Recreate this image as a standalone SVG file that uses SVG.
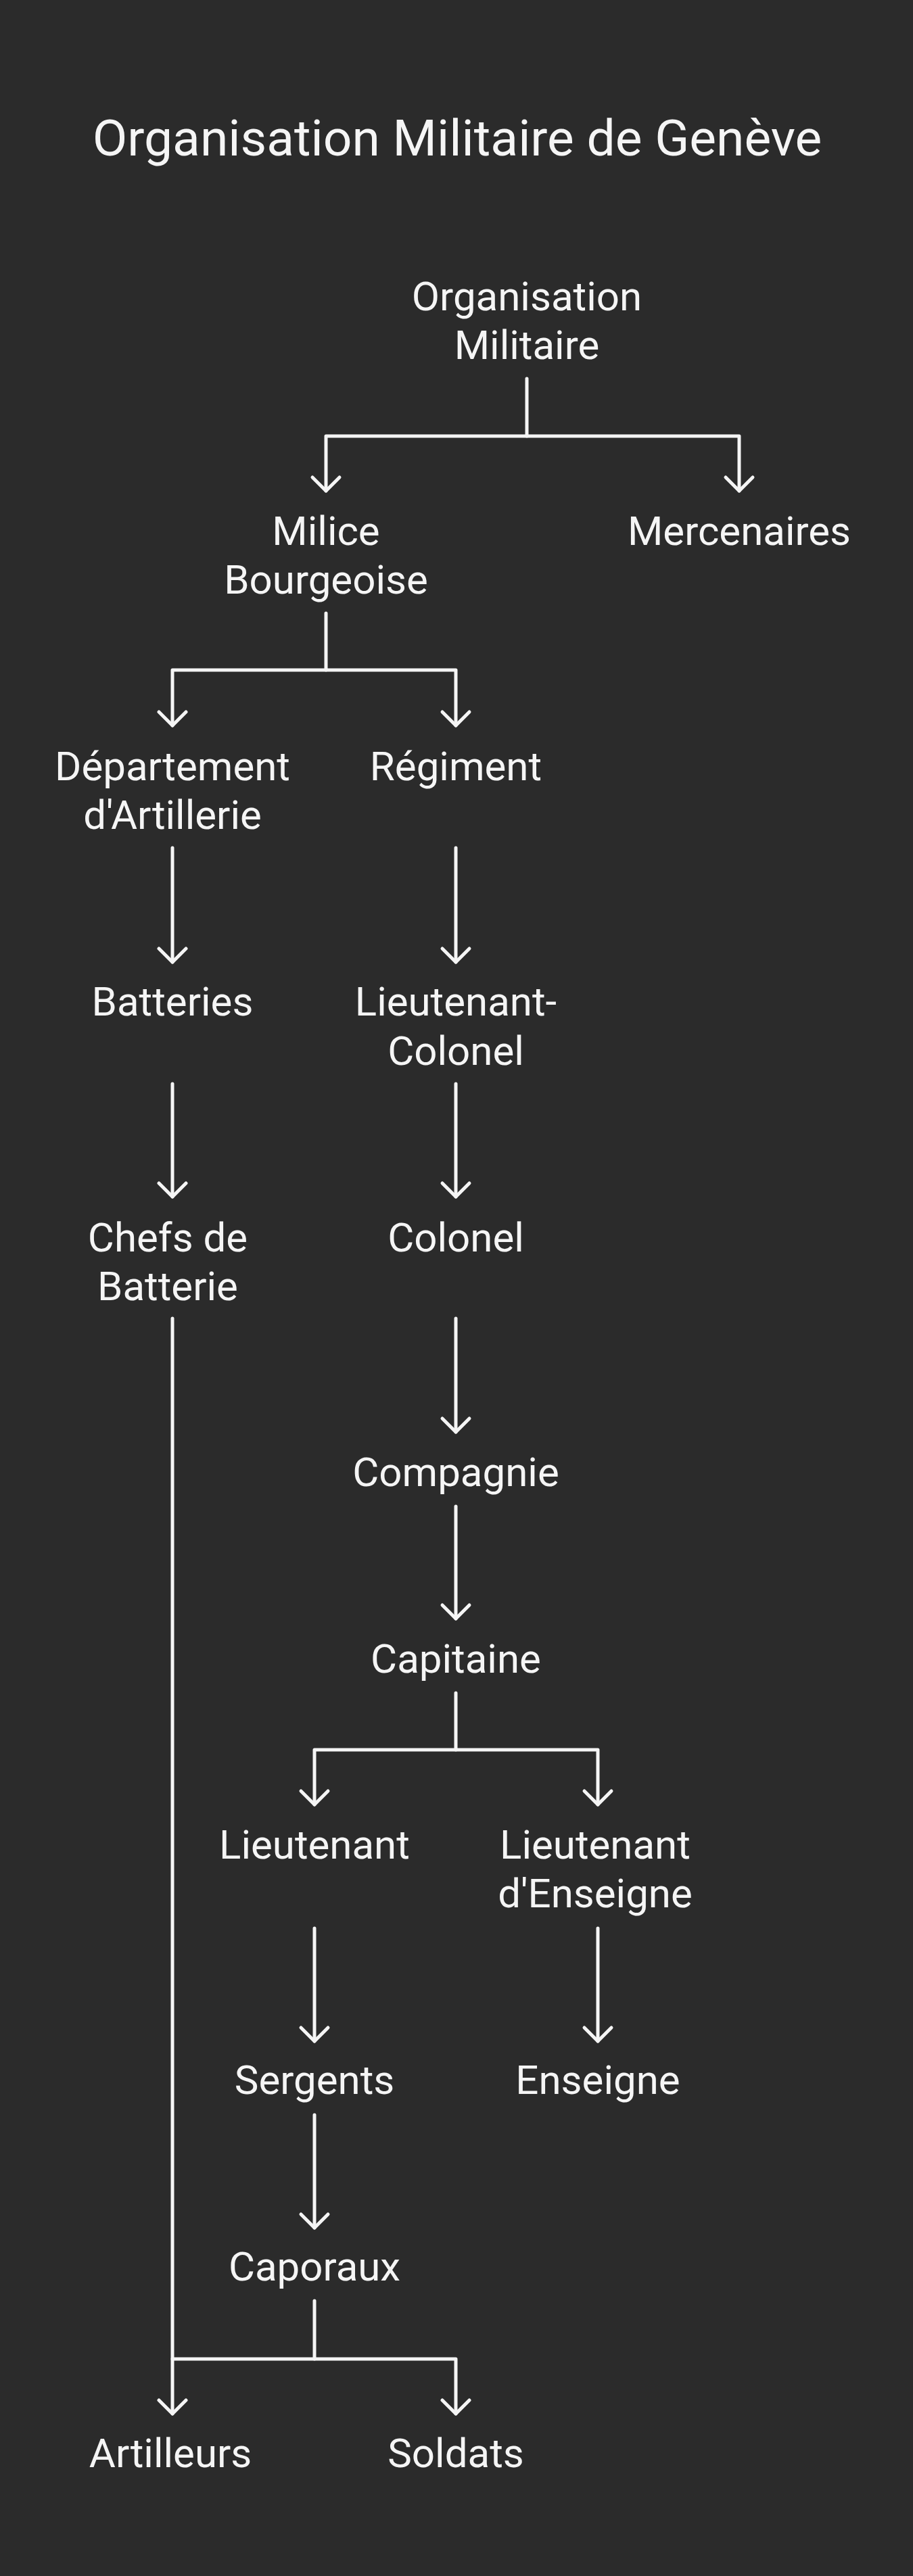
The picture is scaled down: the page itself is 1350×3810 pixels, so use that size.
<svg xmlns="http://www.w3.org/2000/svg" width="1350" height="3810" viewBox="0 0 1350 3810">
<style>
text{font-family:Roboto,"Liberation Sans",sans-serif;fill:#f5f5f5;text-anchor:middle}
.t{font-size:75px}
.n{font-size:60px}
.c path{fill:none;stroke:#f5f5f5;stroke-width:5;stroke-linecap:round;stroke-linejoin:round;marker-end:url(#arr)}
.c path.nm{marker-end:none}
</style>
<defs>
<marker id="arr" markerUnits="userSpaceOnUse" markerWidth="60" markerHeight="60" viewBox="-30 -30 60 60" refX="0" refY="0" orient="auto" overflow="visible">
<path d="M-20,-20 L0,0 L-20,20" fill="none" stroke="#f5f5f5" stroke-width="5" stroke-linecap="round" stroke-linejoin="round"/>
</marker>
</defs>
<rect width="1350" height="3810" fill="#2b2b2b"/>
<text class="t" x="676" y="230">Organisation Militaire de Genève</text>
<g class="c" id="connectors">
<path d="M779 560 V645 H482 V726"/>
<path d="M779 645 H1093 V726"/>
<path d="M482 907 V991 H255 V1073"/>
<path d="M482 991 H674 V1073"/>
<path d="M255 1254 V1423"/>
<path d="M674 1254 V1423"/>
<path d="M255 1603 V1770"/>
<path d="M674 1603 V1770"/>
<path d="M255 1950 V3570"/>
<path d="M674 1950 V2118"/>
<path d="M674 2228 V2394"/>
<path d="M674 2504 V2588 H465 V2669"/>
<path d="M674 2588 H884 V2669"/>
<path d="M465 2852 V3019"/>
<path d="M884 2852 V3019"/>
<path d="M465 3128 V3295"/>
<path class="nm" d="M465 3403 V3489 H255"/>
<path d="M465 3489 H674 V3570"/>
</g>
<g id="n-org"><text class="n" x="779" y="459">Organisation</text><text class="n" x="779" y="531">Militaire</text></g>
<g id="n-milice"><text class="n" x="482" y="806">Milice</text><text class="n" x="482" y="878">Bourgeoise</text></g>
<g id="n-merc"><text class="n" x="1093" y="806">Mercenaires</text></g>
<g id="n-dept"><text class="n" x="255" y="1154">Département</text><text class="n" x="255" y="1226">d'Artillerie</text></g>
<g id="n-reg"><text class="n" x="674" y="1154">Régiment</text></g>
<g id="n-batt"><text class="n" x="255" y="1502">Batteries</text></g>
<g id="n-ltcol"><text class="n" x="674" y="1502">Lieutenant-</text><text class="n" x="674" y="1575">Colonel</text></g>
<g id="n-chefs"><text class="n" x="248" y="1851">Chefs de</text><text class="n" x="248" y="1923">Batterie</text></g>
<g id="n-col"><text class="n" x="674" y="1851">Colonel</text></g>
<g id="n-comp"><text class="n" x="674" y="2198">Compagnie</text></g>
<g id="n-cap"><text class="n" x="674" y="2474">Capitaine</text></g>
<g id="n-lt"><text class="n" x="465" y="2749">Lieutenant</text></g>
<g id="n-ltens"><text class="n" x="880" y="2749">Lieutenant</text><text class="n" x="880" y="2821">d'Enseigne</text></g>
<g id="n-serg"><text class="n" x="465" y="3097">Sergents</text></g>
<g id="n-ens"><text class="n" x="884" y="3097">Enseigne</text></g>
<g id="n-capo"><text class="n" x="465" y="3373">Caporaux</text></g>
<g id="n-art"><text class="n" x="252" y="3649">Artilleurs</text></g>
<g id="n-sold"><text class="n" x="674" y="3649">Soldats</text></g>
</svg>
